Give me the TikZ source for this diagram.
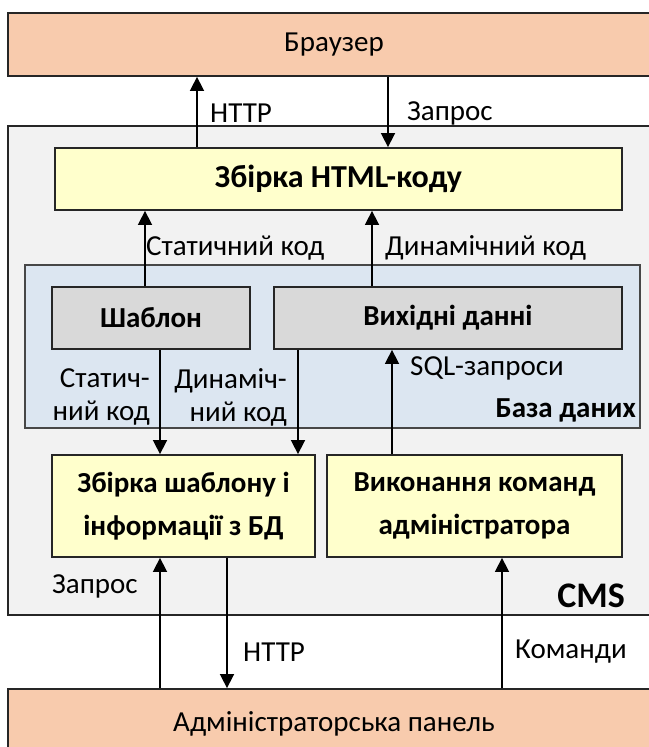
\documentclass[tikz,border=0pt]{standalone}
\usepackage{fontspec}
\setmainfont{Carlito}
\usetikzlibrary{arrows.meta}
\definecolor{peach}{HTML}{F8CBAD}
\definecolor{cmsgray}{HTML}{F2F2F2}
\definecolor{dbblue}{HTML}{DCE6F1}
\definecolor{boxgray}{HTML}{D9D9D9}
\definecolor{paleyellow}{HTML}{FFFFCC}
\definecolor{edge}{HTML}{262626}
\tikzset{
  frame/.style={draw=edge, line width=1.8pt, rectangle, inner sep=0pt},
  outer/.style={frame, fill=peach, minimum width=652pt, font=\fontsize{29}{33}\selectfont},
  stage/.style={frame, fill=paleyellow},
  store/.style={frame, fill=boxgray},
  flow/.style={draw=black, line width=1.6pt, -{Triangle[width=14pt,length=14pt]}},
  lbl/.style={font=\fontsize{29}{33}\selectfont, inner sep=0pt},
  blbl/.style={font=\fontsize{29}{43}\selectfont\bfseries, align=center},
}
\begin{document}
\begin{tikzpicture}[x=1pt,y=-1pt]
\useasboundingbox (0,0) rectangle (648,747);
% outer containers
\node[outer, minimum height=63pt] (browser) at (334,44.5) {Браузер};
\node[frame, fill=cmsgray, minimum width=652pt, minimum height=489pt] (cms) at (334,370.5) {};
\node[outer, minimum height=72pt, text depth=0pt] (admin) at (334,725) {\raisebox{6pt}{Адміністраторська панель}};
% database area
\node[frame, draw=edge!85, line width=1.3pt, fill=dbblue, minimum width=615pt, minimum height=163pt] (db) at (332.5,346.5) {};
\node[lbl, font=\fontsize{29}{33}\selectfont\bfseries, anchor=east] (dblabel) at (636,410) {База даних};
\node[font=\fontsize{36}{40}\selectfont\bfseries, inner sep=0pt, anchor=base east] (cmslabel) at (625,607) {CMS};
% processing and storage boxes
\node[stage, minimum width=567pt, minimum height=62pt, blbl, font=\fontsize{32}{36}\selectfont\bfseries] (html) at (338.5,179) {Збірка HTML-коду};
\node[store, minimum width=198pt, minimum height=62pt, blbl] (tpl) at (151,318) {Шаблон};
\node[store, minimum width=348pt, minimum height=62pt, blbl] (data) at (448,318) {Вихідні данні};
\node[stage, minimum width=263pt, minimum height=102pt, blbl] (merge) at (183.5,506) {Збірка шаблону і\\інформації з БД};
\node[stage, minimum width=295pt, minimum height=102pt, blbl] (exec) at (474.5,506) {Виконання команд\\адміністратора};
% x positions of the vertical connectors
\coordinate (xa) at (197,0);
\coordinate (xb) at (388,0);
\coordinate (xc) at (145,0);
\coordinate (xd) at (372,0);
\coordinate (xe) at (160,0);
\coordinate (xf) at (298,0);
\coordinate (xg) at (392,0);
\coordinate (xh) at (227,0);
\coordinate (xi) at (502,0);
% connectors
\draw[flow] (html.north -| xa) -- (browser.south -| xa);
\draw[flow] (browser.south -| xb) -- (html.north -| xb);
\draw[flow] (tpl.north -| xc) -- (html.south -| xc);
\draw[flow] (data.north -| xd) -- (html.south -| xd);
\draw[flow] (tpl.south -| xe) -- (merge.north -| xe);
\draw[flow] (data.south -| xf) -- (merge.north -| xf);
\draw[flow] (exec.north -| xg) -- (data.south -| xg);
\draw[flow] (admin.north -| xe) -- (merge.south -| xe);
\draw[flow] (merge.south -| xh) -- (admin.north -| xh);
\draw[flow] (admin.north -| xi) -- (exec.south -| xi);
% connector labels
\node[lbl, anchor=west] (h1) at (210,113) {HTTP};
\node[lbl, anchor=west] (z1) at (407,113) {Запрос};
\node[lbl, anchor=west] (s1) at (146,248) {Статичний код};
\node[lbl, anchor=west] (d1) at (385,248) {Динамічний код};
\node[lbl, align=right, anchor=east] (s2) at (150,397) {Статич-\\ний код};
\node[lbl, align=right, anchor=east] (d2) at (287,397) {Динаміч-\\ний код};
\node[lbl, anchor=west] (q1) at (410,368) {SQL-запроси};
\node[lbl, anchor=west] (z2) at (52,586) {Запрос};
\node[lbl, anchor=west] (h2) at (243,652) {HTTP};
\node[lbl, anchor=west] (k1) at (515,652) {Команди};
\end{tikzpicture}
\end{document}
